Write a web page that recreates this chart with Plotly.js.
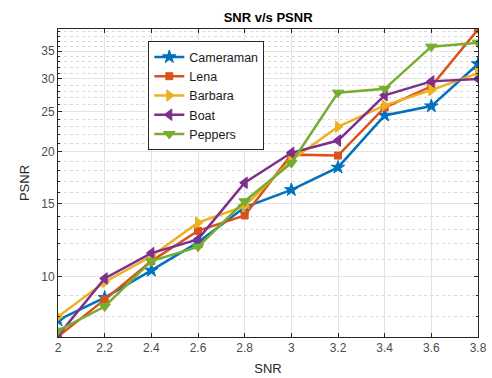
<!DOCTYPE html>
<html>
<head>
<meta charset="utf-8">
<script src="https://cdn.plot.ly/plotly-3.0.1.min.js"></script>
<style>html,body{margin:0;padding:0;background:#fff;}#chart{width:492px;height:378px;}</style>
</head>
<body>
<div id="chart"></div>
<script>
var snr = [2, 2.2, 2.4, 2.6, 2.8, 3, 3.2, 3.4, 3.6, 3.8];
var cameraman = [7.85, 8.9, 10.35, 12.1, 14.7, 16.2, 18.35, 24.5, 25.8, 32.6];
var lena = [7.17, 8.8, 10.9, 12.9, 14.05, 19.7, 19.6, 25.6, 28.8, 39.5];
var barbara = [8.0, 9.7, 11.2, 13.5, 14.8, 19.1, 23.0, 25.9, 28.2, 31.0];
var boat = [7.2, 9.9, 11.4, 12.3, 16.85, 19.9, 21.3, 27.4, 29.6, 30.0];
var peppers = [7.41, 8.47, 10.9, 11.8, 15.2, 18.8, 27.8, 28.4, 35.9, 36.7];
var xTicks = [2, 2.2, 2.4, 2.6, 2.8, 3, 3.2, 3.4, 3.6, 3.8];
var xTickText = ['2', '2.2', '2.4', '2.6', '2.8', '3', '3.2', '3.4', '3.6', '3.8'];
var yTicks = [10, 15, 20, 25, 30, 35];
var yTickText = ['10', '15', '20', '25', '30', '35'];

var names = ['Cameraman', 'Lena', 'Barbara', 'Boat', 'Peppers'];
var series = [cameraman, lena, barbara, boat, peppers];
var colors = ['#0072BD', '#D95319', '#EDB120', '#7E2F8E', '#77AC30'];
var symbols = ['star', 'square', 'triangle-right', 'triangle-left', 'triangle-down'];
var sizes = [10, 7, 10, 10, 10];

var traces = series.map(function (s, i) {
  return {
    x: snr, y: s, name: names[i], type: 'scatter', mode: 'lines+markers',
    line: {color: colors[i], width: 2.5},
    marker: {symbol: symbols[i], size: sizes[i], color: colors[i], line: {color: colors[i], width: 1}}
  };
});

var minorVals = [];
for (var v = 7; v <= 40; v++) { if (v % 5 !== 0) minorVals.push(v); }

var layout = {
  width: 492, height: 378,
  margin: {l: 58, r: 14, t: 29, b: 41},
  paper_bgcolor: '#ffffff', plot_bgcolor: '#ffffff',
  font: {family: 'Liberation Sans, Arial, sans-serif', size: 12, color: '#262626'},
  title: {text: '<b>SNR v/s PSNR</b>', x: 0.545, xanchor: 'center', y: 0.955, yanchor: 'middle',
          font: {size: 13, color: '#000000'}},
  showlegend: true,
  legend: {x: 0.215, y: 0.96, xanchor: 'left', yanchor: 'top', bgcolor: '#ffffff',
           bordercolor: '#262626', borderwidth: 1, font: {size: 12.5, color: '#1a1a1a'},
           tracegroupgap: 0, itemwidth: 30},
  xaxis: {
    range: [2, 3.8], tickmode: 'array', tickvals: xTicks, ticktext: xTickText,
    showgrid: true, gridcolor: '#e3e3e3', gridwidth: 1,
    showline: true, linecolor: '#262626', linewidth: 1, mirror: 'ticks',
    ticks: 'inside', ticklen: 4, tickcolor: '#262626', zeroline: false,
    tickfont: {size: 12, color: '#4d4d4d'},
    title: {text: 'SNR', font: {size: 13, color: '#262626'}, standoff: 9}
  },
  yaxis: {
    type: 'log', range: [Math.log10(7.15), Math.log10(39.6)],
    tickmode: 'array', tickvals: yTicks, ticktext: yTickText,
    showgrid: true, gridcolor: '#e3e3e3', gridwidth: 1,
    showline: true, linecolor: '#262626', linewidth: 1, mirror: 'ticks',
    ticks: 'inside', ticklen: 4, tickcolor: '#262626', zeroline: false,
    tickfont: {size: 12, color: '#4d4d4d'},
    minor: {tickmode: 'array', tickvals: minorVals, ticks: 'inside', ticklen: 2,
            tickcolor: '#262626', showgrid: true, gridcolor: '#d9d9d9', griddash: 'dot', gridwidth: 1},
    title: {text: 'PSNR', font: {size: 13, color: '#262626'}, standoff: 8}
  }
};

Plotly.newPlot('chart', traces, layout, {displayModeBar: false, staticPlot: true});
</script>
</body>
</html>
